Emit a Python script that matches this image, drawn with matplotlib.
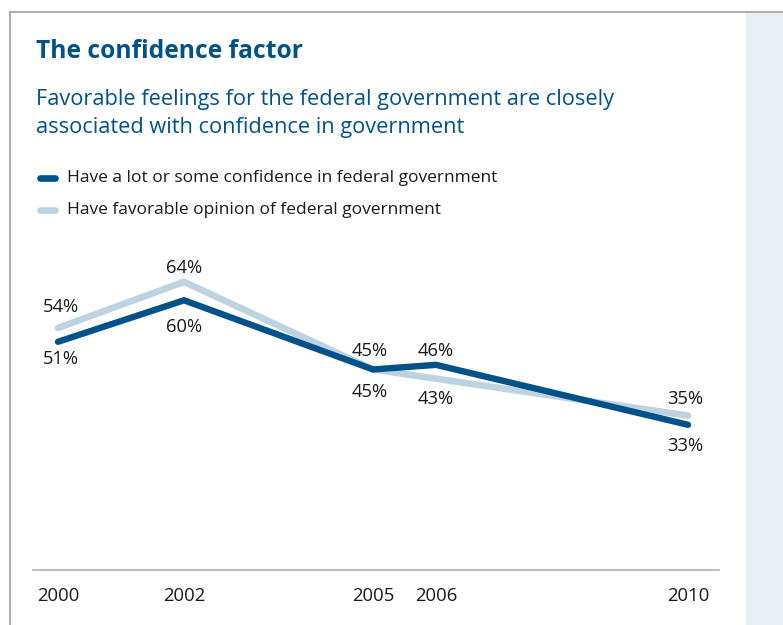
import matplotlib
matplotlib.use("Agg")
import matplotlib.pyplot as plt
from matplotlib.patches import Rectangle
from matplotlib.lines import Line2D

years = [2000, 2002, 2005, 2006, 2010]
year_labels = ["2000", "2002", "2005", "2006", "2010"]
confidence = [51, 60, 45, 46, 33]
favorable = [54, 64, 45, 43, 35]
series_names = ["Have a lot or some confidence in federal government",
                "Have favorable opinion of federal government"]

DARK = "#005288"
LIGHT = "#BDD3E1"
TITLE_C = "#005288"
TEXT_C = "#1a1a1a"
FONT = ["Open Sans", "DejaVu Sans"]

W, H = 783, 625
fig = plt.figure(figsize=(W / 100, H / 100), dpi=100)
fig.patch.set_facecolor("white")

def fx(px):
    return px / W

def fy(py):
    return 1 - py / H

# frame and sidebar
fig.add_artist(Rectangle((fx(746), 0), fx(W) - fx(746), fy(12), transform=fig.transFigure,
                         facecolor="#EAEFF4", edgecolor="none", zorder=0))
fig.add_artist(Line2D([fx(9.5), 1], [fy(11.5), fy(11.5)], transform=fig.transFigure,
                      color="#A0A0A0", lw=1.2))
fig.add_artist(Line2D([fx(9.5), fx(9.5)], [0, fy(11.5)], transform=fig.transFigure,
                      color="#A0A0A0", lw=1.2))

# titles
fig.text(fx(36), fy(51), "The confidence factor", fontsize=17.7, fontweight="bold",
         color=TITLE_C, family=FONT, va="center", ha="left")
fig.text(fx(36), fy(99), "Favorable feelings for the federal government are closely",
         fontsize=15.7, color=TITLE_C, family=FONT, va="center", ha="left")
fig.text(fx(36), fy(128), "associated with confidence in government",
         fontsize=15.7, color=TITLE_C, family=FONT, va="center", ha="left")

# legend
for i, (name, col) in enumerate(zip(series_names, [DARK, LIGHT])):
    yy = [178, 210][i]
    fig.add_artist(Line2D([fx(40), fx(55)], [fy(yy), fy(yy)], transform=fig.transFigure,
                          color=col, lw=4.8, solid_capstyle="round"))
    fig.text(fx(67), fy(yy), name, fontsize=12.5, color=TEXT_C, family=FONT,
             va="center", ha="left")

# axes
ax_l, ax_r, ax_b, ax_t = 33, 719, 570, 250
ax = fig.add_axes([fx(ax_l), fy(ax_b), fx(ax_r) - fx(ax_l), fy(ax_t) - fy(ax_b)])
ax.set_facecolor("none")
ax.plot(years, favorable, color=LIGHT, lw=4.8, solid_capstyle="round",
        solid_joinstyle="miter", zorder=2)
ax.plot(years, confidence, color=DARK, lw=4.6, solid_capstyle="round",
        solid_joinstyle="miter", zorder=3)
ax.set_xlim(1999.603, 2010.492)
ax.set_ylim(1.52, 70.9)

for s in ["top", "left", "right"]:
    ax.spines[s].set_visible(False)
ax.spines["bottom"].set_color("#B0B0B0")
ax.spines["bottom"].set_linewidth(1.2)
ax.set_yticks([])
ax.set_xticks(years)
ax.set_xticklabels(year_labels, fontsize=13.3, color=TEXT_C, family=FONT)
ax.tick_params(axis="x", length=0, pad=12.5)

# value labels: offsets in pixels
fav_off = [(3, 21), (0, 14), (-3, -23), (0, -20), (-3, 17)]
conf_off = [(3, -17), (0, -27), (-3, 18), (0, 14), (-3, -21)]
for vals, offs in [(favorable, fav_off), (confidence, conf_off)]:
    for x, v, (dx, dy) in zip(years, vals, offs):
        ax.annotate(f"{v}%", (x, v), xytext=(dx, dy), textcoords="offset pixels",
                    ha="center", va="center", fontsize=13.2, color=TEXT_C, family=FONT)

fig.savefig("out.png", dpi=100, facecolor="white")
